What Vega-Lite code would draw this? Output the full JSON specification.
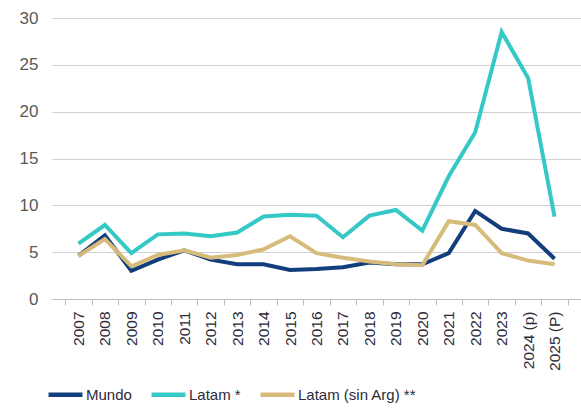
{
  "$schema": "https://vega.github.io/schema/vega-lite/v6.json",
  "width": 529,
  "height": 281,
  "autosize": {"type": "none"},
  "padding": {"left": 52, "top": 18, "right": 0, "bottom": 110},
  "background": "white",
  "config": {"view": {"stroke": null}, "font": "Liberation Sans"},
  "data": {
    "values": [
      {"year": "2007", "serie": "Mundo", "v": 4.6},
      {"year": "2008", "serie": "Mundo", "v": 6.8},
      {"year": "2009", "serie": "Mundo", "v": 3.0},
      {"year": "2010", "serie": "Mundo", "v": 4.2},
      {"year": "2011", "serie": "Mundo", "v": 5.2},
      {"year": "2012", "serie": "Mundo", "v": 4.2},
      {"year": "2013", "serie": "Mundo", "v": 3.7},
      {"year": "2014", "serie": "Mundo", "v": 3.7},
      {"year": "2015", "serie": "Mundo", "v": 3.1},
      {"year": "2016", "serie": "Mundo", "v": 3.2},
      {"year": "2017", "serie": "Mundo", "v": 3.4},
      {"year": "2018", "serie": "Mundo", "v": 3.9},
      {"year": "2019", "serie": "Mundo", "v": 3.7},
      {"year": "2020", "serie": "Mundo", "v": 3.7},
      {"year": "2021", "serie": "Mundo", "v": 4.9},
      {"year": "2022", "serie": "Mundo", "v": 9.4},
      {"year": "2023", "serie": "Mundo", "v": 7.5},
      {"year": "2024 (p)", "serie": "Mundo", "v": 7.0},
      {"year": "2025 (P)", "serie": "Mundo", "v": 4.3},
      {"year": "2007", "serie": "Latam *", "v": 5.9},
      {"year": "2008", "serie": "Latam *", "v": 7.9},
      {"year": "2009", "serie": "Latam *", "v": 4.9},
      {"year": "2010", "serie": "Latam *", "v": 6.9},
      {"year": "2011", "serie": "Latam *", "v": 7.0},
      {"year": "2012", "serie": "Latam *", "v": 6.7},
      {"year": "2013", "serie": "Latam *", "v": 7.1},
      {"year": "2014", "serie": "Latam *", "v": 8.8},
      {"year": "2015", "serie": "Latam *", "v": 9.0},
      {"year": "2016", "serie": "Latam *", "v": 8.9},
      {"year": "2017", "serie": "Latam *", "v": 6.6},
      {"year": "2018", "serie": "Latam *", "v": 8.9},
      {"year": "2019", "serie": "Latam *", "v": 9.5},
      {"year": "2020", "serie": "Latam *", "v": 7.3},
      {"year": "2021", "serie": "Latam *", "v": 13.1},
      {"year": "2022", "serie": "Latam *", "v": 17.8},
      {"year": "2023", "serie": "Latam *", "v": 28.5},
      {"year": "2024 (p)", "serie": "Latam *", "v": 23.6},
      {"year": "2025 (P)", "serie": "Latam *", "v": 8.8},
      {"year": "2007", "serie": "Latam (sin Arg) **", "v": 4.6},
      {"year": "2008", "serie": "Latam (sin Arg) **", "v": 6.4},
      {"year": "2009", "serie": "Latam (sin Arg) **", "v": 3.5},
      {"year": "2010", "serie": "Latam (sin Arg) **", "v": 4.7},
      {"year": "2011", "serie": "Latam (sin Arg) **", "v": 5.2},
      {"year": "2012", "serie": "Latam (sin Arg) **", "v": 4.4},
      {"year": "2013", "serie": "Latam (sin Arg) **", "v": 4.7},
      {"year": "2014", "serie": "Latam (sin Arg) **", "v": 5.3},
      {"year": "2015", "serie": "Latam (sin Arg) **", "v": 6.7},
      {"year": "2016", "serie": "Latam (sin Arg) **", "v": 4.9},
      {"year": "2017", "serie": "Latam (sin Arg) **", "v": 4.4},
      {"year": "2018", "serie": "Latam (sin Arg) **", "v": 4.0},
      {"year": "2019", "serie": "Latam (sin Arg) **", "v": 3.7},
      {"year": "2020", "serie": "Latam (sin Arg) **", "v": 3.6},
      {"year": "2021", "serie": "Latam (sin Arg) **", "v": 8.3},
      {"year": "2022", "serie": "Latam (sin Arg) **", "v": 7.9},
      {"year": "2023", "serie": "Latam (sin Arg) **", "v": 4.9},
      {"year": "2024 (p)", "serie": "Latam (sin Arg) **", "v": 4.1},
      {"year": "2025 (P)", "serie": "Latam (sin Arg) **", "v": 3.7}
    ]
  },
  "mark": {"type": "line", "strokeWidth": 4, "strokeJoin": "miter", "strokeCap": "butt"},
  "encoding": {
    "x": {
      "field": "year", "type": "ordinal", "title": null,
      "scale": {"paddingInner": 0, "paddingOuter": 0.5},
      "axis": {
        "labelAngle": 270, "labelAlign": "right", "labelBaseline": "middle",
        "labelFontSize": 15.5, "labelColor": "#2b2b3a", "labelPadding": 6,
        "domainColor": "#bfbfbf", "tickColor": "#bfbfbf", "tickSize": 6,
        "tickBand": "extent", "grid": false
      }
    },
    "y": {
      "field": "v", "type": "quantitative", "title": null,
      "scale": {"domain": [0, 30]},
      "axis": {
        "values": [0, 5, 10, 15, 20, 25, 30], "domain": false, "ticks": false,
        "labelFontSize": 17, "labelColor": "#595959", "labelPadding": 14,
        "gridColor": "#d0d0d0", "gridWidth": 1.2
      }
    },
    "color": {
      "field": "serie", "type": "nominal", "title": null,
      "sort": ["Mundo", "Latam *", "Latam (sin Arg) **"],
      "scale": {"domain": ["Mundo", "Latam *", "Latam (sin Arg) **"], "range": ["#123f7c", "#34c9c6", "#d7bb7a"]},
      "legend": {
        "orient": "none", "legendX": -6, "legendY": 357, "direction": "horizontal",
        "symbolType": "stroke", "symbolSize": 1150, "symbolStrokeWidth": 4.5,
        "labelFontSize": 15, "labelColor": "#2b2b3a", "labelOffset": 1,
        "columnPadding": 10, "symbolOffset": 0
      }
    }
  }
}
